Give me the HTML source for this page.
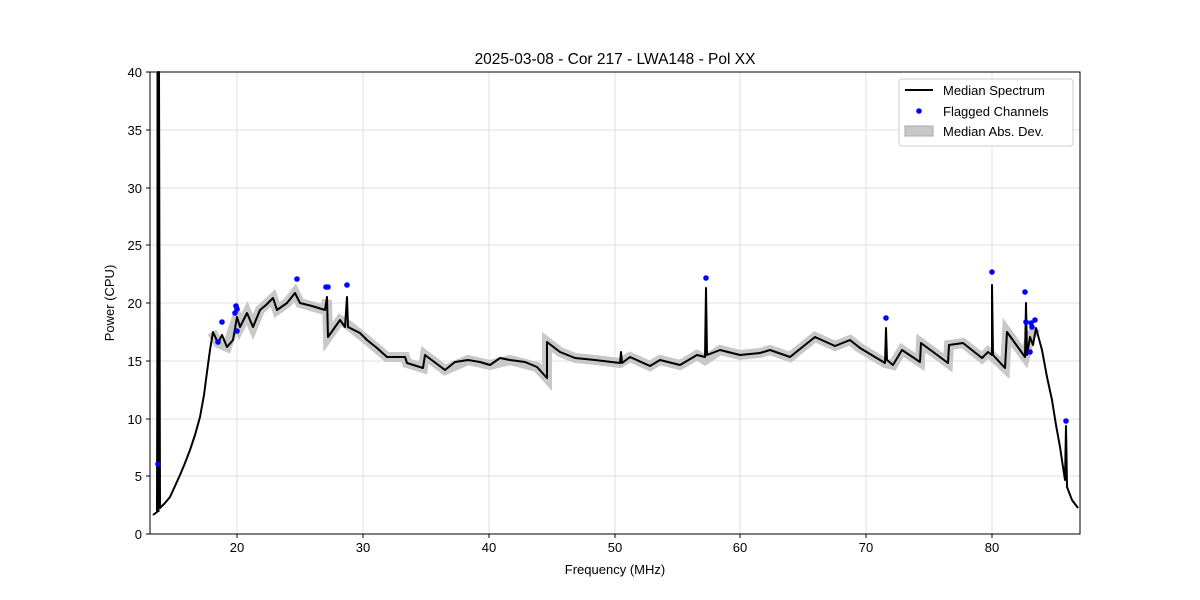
<!DOCTYPE html>
<html><head><style>body{margin:0;background:#fff}svg{display:block;font-family:"Liberation Sans","DejaVu Sans",sans-serif}</style></head><body>
<svg width="1200" height="600" viewBox="0 0 1200 600">
<rect width="1200" height="600" fill="#fff"/>
<g stroke="#e0e0e0" stroke-width="1">
<line x1="237" y1="72" x2="237" y2="534"/><line x1="363" y1="72" x2="363" y2="534"/><line x1="489" y1="72" x2="489" y2="534"/><line x1="615" y1="72" x2="615" y2="534"/><line x1="740" y1="72" x2="740" y2="534"/><line x1="866" y1="72" x2="866" y2="534"/><line x1="992" y1="72" x2="992" y2="534"/>
<line x1="150" y1="476" x2="1080" y2="476"/><line x1="150" y1="419" x2="1080" y2="419"/><line x1="150" y1="361" x2="1080" y2="361"/><line x1="150" y1="303" x2="1080" y2="303"/><line x1="150" y1="245" x2="1080" y2="245"/><line x1="150" y1="188" x2="1080" y2="188"/><line x1="150" y1="130" x2="1080" y2="130"/>
</g>
<polyline fill="none" stroke="#c8c8c8" stroke-width="10" stroke-linejoin="miter" stroke-linecap="butt" points="212,332 218,343 227,347 237,317 240,327 247,313 253,327 260,310 273,298 277,310 287,303 295,293 300,303 325,310 327,300 328,337 340,320 348,325 367,340 387,357 405,357 407,363 423,368 425,355 445,370 468,360 490,365 510,360 537,367 547,378 547,342 560,352 575,358 595,360 620,363 630,357 650,366 660,360 680,365 697,355 705,360 720,350 740,355 760,353 770,350 790,357 805,345 815,337 835,346 850,340 860,348 885,363 893,365 902,350 920,362 921,343 948,363 949,345 963,343 982,358 988,352 1005,368 1007,332 1025,357 1030,337 1036,328"/>
<line x1="158" y1="72" x2="158" y2="512" stroke="#000" stroke-width="3"/>
<polyline fill="none" stroke="#000" stroke-width="2" stroke-linejoin="round" points="153,515 157,512 158,72 159,72 160,508 165,503 170,497 175,486 180,475 185,463 190,450 195,435 200,417 204,395 207,372 210,350 213,332 218,343 222,335 227,347 233,340 237,317 240,327 247,313 253,327 260,310 266,305 273,298 277,310 287,303 295,293 300,303 312,306 325,310 327,297 328,337 340,320 345,327 347,297 348,327 360,333 367,340 377,348 387,357 405,357 407,363 423,368 425,355 445,370 455,362 468,360 480,362 490,365 500,358 510,360 525,362 537,367 547,378 547,342 560,352 575,358 595,360 620,363 621,352 622,363 630,357 650,366 660,360 680,365 697,355 705,357 706,288 707,355 720,350 740,355 760,353 770,350 790,357 805,345 815,337 835,346 850,340 860,348 885,363 886,328 887,360 893,365 902,350 920,362 921,343 948,363 949,345 963,343 982,358 988,352 992,355 992,285 993,355 1005,368 1007,332 1025,357 1026,303 1027,355 1030,337 1033,345 1036,328 1042,350 1047,377 1052,400 1056,425 1060,447 1063,467 1065,480 1066,426 1067,487 1072,500 1078,508"/>
<g fill="#0000ff">
<circle cx="158" cy="464" r="2.8"/><circle cx="218" cy="342" r="2.8"/><circle cx="222" cy="322" r="2.8"/><circle cx="235" cy="313" r="2.8"/><circle cx="236" cy="306" r="2.8"/><circle cx="237" cy="309" r="2.8"/><circle cx="237" cy="331" r="2.8"/><circle cx="297" cy="279" r="2.8"/><circle cx="326" cy="287" r="2.8"/><circle cx="328" cy="287" r="2.8"/><circle cx="347" cy="285" r="2.8"/><circle cx="706" cy="278" r="2.8"/><circle cx="886" cy="318" r="2.8"/><circle cx="992" cy="272" r="2.8"/><circle cx="1025" cy="292" r="2.8"/><circle cx="1026" cy="322" r="2.8"/><circle cx="1030" cy="352" r="2.8"/><circle cx="1031" cy="323" r="2.8"/><circle cx="1032" cy="327" r="2.8"/><circle cx="1035" cy="320" r="2.8"/><circle cx="1066" cy="421" r="2.8"/>
</g>
<rect x="150" y="72" width="930" height="462" fill="none" stroke="#000" stroke-width="1"/>
<g stroke="#000"><line x1="237" y1="534" x2="237" y2="538"/><line x1="363" y1="534" x2="363" y2="538"/><line x1="489" y1="534" x2="489" y2="538"/><line x1="615" y1="534" x2="615" y2="538"/><line x1="740" y1="534" x2="740" y2="538"/><line x1="866" y1="534" x2="866" y2="538"/><line x1="992" y1="534" x2="992" y2="538"/>
<line x1="146" y1="534" x2="150" y2="534"/><line x1="146" y1="476" x2="150" y2="476"/><line x1="146" y1="419" x2="150" y2="419"/><line x1="146" y1="361" x2="150" y2="361"/><line x1="146" y1="303" x2="150" y2="303"/><line x1="146" y1="245" x2="150" y2="245"/><line x1="146" y1="188" x2="150" y2="188"/><line x1="146" y1="130" x2="150" y2="130"/><line x1="146" y1="72" x2="150" y2="72"/></g>
<g font-size="13" text-anchor="middle" fill="#000">
<text x="237" y="552">20</text><text x="363" y="552">30</text><text x="489" y="552">40</text><text x="615" y="552">50</text><text x="740" y="552">60</text><text x="866" y="552">70</text><text x="992" y="552">80</text>
</g>
<g font-size="13" text-anchor="end" fill="#000">
<text x="142" y="539">0</text><text x="142" y="481">5</text><text x="142" y="424">10</text><text x="142" y="366">15</text><text x="142" y="308">20</text><text x="142" y="250">25</text><text x="142" y="193">30</text><text x="142" y="135">35</text><text x="142" y="77">40</text>
</g>
<text x="615" y="574" font-size="13" text-anchor="middle">Frequency (MHz)</text>
<text x="114" y="303" font-size="13" text-anchor="middle" transform="rotate(-90 114 303)">Power (CPU)</text>
<text x="615" y="64" font-size="15.5" text-anchor="middle">2025-03-08 - Cor 217 - LWA148 - Pol XX</text>
<rect x="899" y="79" width="174" height="67" rx="3" fill="#fff" stroke="#ccc"/>
<line x1="905" y1="90" x2="933" y2="90" stroke="#000" stroke-width="2"/>
<circle cx="919" cy="111" r="2.8" fill="#0000ff"/>
<rect x="905" y="126" width="28" height="10" fill="#c8c8c8" stroke="#aaa"/>
<g font-size="13"><text x="943" y="95">Median Spectrum</text><text x="943" y="116">Flagged Channels</text><text x="943" y="136">Median Abs. Dev.</text></g>
</svg>
</body></html>
